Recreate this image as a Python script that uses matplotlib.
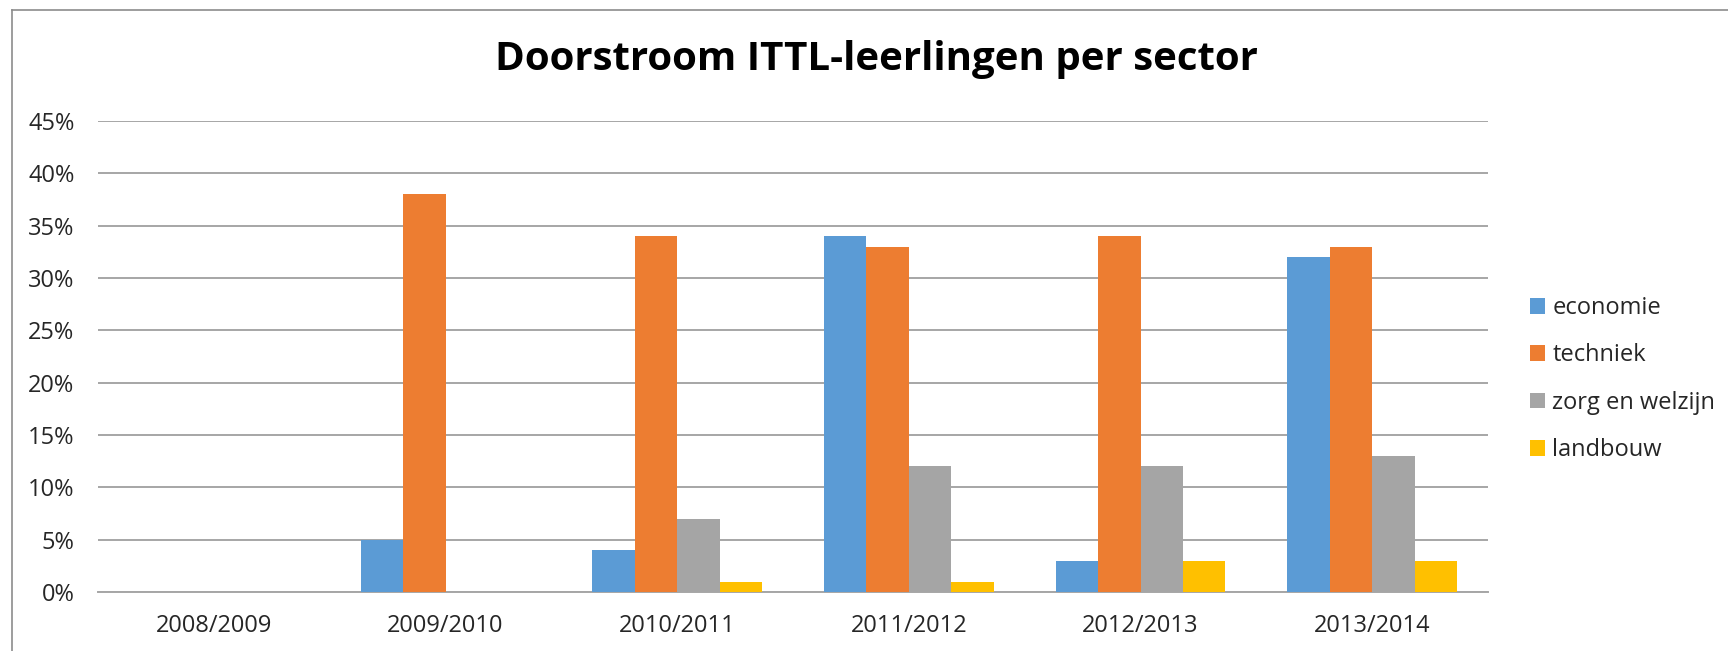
import matplotlib
matplotlib.use("Agg")
import matplotlib.pyplot as plt
import numpy as np
from matplotlib.ticker import FuncFormatter, MultipleLocator
from matplotlib.lines import Line2D

plt.rcParams['font.family'] = ['Open Sans', 'DejaVu Sans']

years = ["2008/2009", "2009/2010", "2010/2011", "2011/2012", "2012/2013", "2013/2014"]
economie = [0, 5, 4, 34, 3, 32]
techniek = [0, 38, 34, 33, 34, 33]
zorg_en_welzijn = [0, 0, 7, 12, 12, 13]
landbouw = [0, 0, 1, 1, 3, 3]
series_names = ["economie", "techniek", "zorg en welzijn", "landbouw"]
colors = ["#5B9BD5", "#ED7D31", "#A5A5A5", "#FFC000"]
title = "Doorstroom ITTL-leerlingen per sector"

W, H = 1728, 651
fig = plt.figure(figsize=(W / 100, H / 100), dpi=100)
ax = fig.add_axes([98 / W, 1 - 592 / H, (1488 - 98) / W, (592 - 121) / H])

x = np.arange(len(years))
bw = 0.183
data = [economie, techniek, zorg_en_welzijn, landbouw]
for i, (vals, name, c) in enumerate(zip(data, series_names, colors)):
    ax.bar(x + (i - 1.5) * bw, vals, width=bw, color=c, label=name, zorder=3, linewidth=0)

ax.set_xlim(-0.5, len(years) - 0.5)
ax.set_ylim(0, 45)
ax.yaxis.set_major_locator(MultipleLocator(5))
ax.yaxis.set_major_formatter(FuncFormatter(lambda v, p: f"{int(round(v))}%"))
ax.set_xticks(x)
ax.set_xticklabels(years)
ax.grid(axis='y', color='#A6A6A6', linewidth=1.4, zorder=0)
ax.set_axisbelow(True)
for s in ['top', 'right', 'left']:
    ax.spines[s].set_visible(False)
ax.spines['bottom'].set_color('#A6A6A6')
ax.spines['bottom'].set_linewidth(1.4)
ax.tick_params(axis='both', length=0, labelsize=17, colors='#262626')
ax.tick_params(axis='y', pad=17)
ax.tick_params(axis='x', pad=16)

fig.text(876 / W, 1 - 70 / H, title, ha='center', va='baseline', fontsize=29,
         fontweight='bold', color='black')

leg = ax.legend(loc='upper left', bbox_to_anchor=(1530 / W, 1 - 296 / H),
                bbox_transform=fig.transFigure, frameon=False, fontsize=17,
                handlelength=0.65, handleheight=0.65, handletextpad=0.3,
                labelspacing=0.99, borderaxespad=0, borderpad=0)
for t in leg.get_texts():
    t.set_color('#262626')

# outer chart border (top and left visible)
fig.add_artist(Line2D([12 / W, 12 / W], [0, 1 - 10 / H], transform=fig.transFigure,
                      color='#8C8C8C', linewidth=1.2))
fig.add_artist(Line2D([12 / W, 1], [1 - 10 / H, 1 - 10 / H], transform=fig.transFigure,
                      color='#8C8C8C', linewidth=1.2))

fig.savefig("out.png", dpi=100)
